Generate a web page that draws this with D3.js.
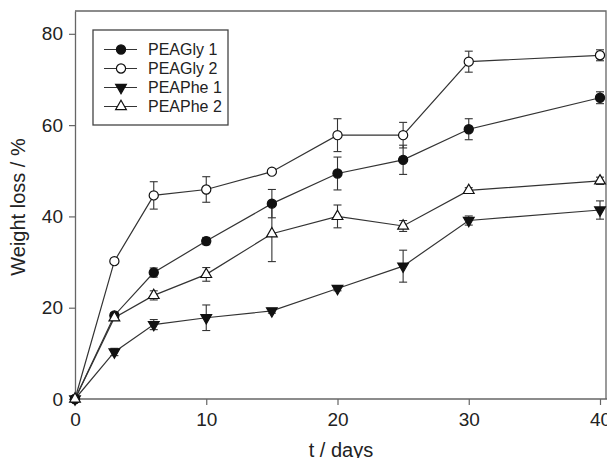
<!DOCTYPE html>
<html>
<head>
<meta charset="utf-8">
<script src="https://cdn.jsdelivr.net/npm/d3@7"></script>
<style>
    body { margin: 0; background: #fff; }
    text { font-family: "Liberation Sans", Arial, sans-serif; fill: #222; }
</style>
</head>
<body>
<div id="chart"></div>
<script>
// data
const days = [0, 3, 6, 10, 15, 20, 25, 30, 40];

const gly1 = [0, 18.3, 27.7, 34.6, 42.8, 49.4, 52.4, 59.1, 66.0];
const gly1Err = [0, 0.6, 1.0, 0.8, 3.1, 3.6, 3.2, 2.3, 1.3];

const gly2 = [0, 30.2, 44.6, 45.9, 49.8, 57.8, 57.8, 73.9, 75.3];
const gly2Err = [0, 0.5, 3.0, 2.8, 0.5, 3.6, 2.8, 2.3, 1.2];

const phe1 = [0, 10.3, 16.3, 17.8, 19.3, 24.2, 29.1, 39.1, 41.4];
const phe1Err = [0, 0.8, 1.1, 2.8, 0.5, 0.5, 3.5, 1.0, 2.0];

const phe2 = [0, 17.8, 22.7, 27.3, 36.2, 40.0, 37.9, 45.7, 47.8];
const phe2Err = [0, 0.6, 1.0, 1.5, 6.1, 2.5, 1.2, 0.6, 0.8];

const seriesNames = ["PEAGly 1", "PEAGly 2", "PEAPhe 1", "PEAPhe 2"];
const xTicks = [0, 10, 20, 30, 40];
const yTicks = [0, 20, 40, 60, 80];

const W = 607, H = 458;
const margin = {top: 11, right: 1, bottom: 59, left: 75};

const svg = d3.select("#chart").append("svg")
    .attr("width", W)
    .attr("height", H);

const x = d3.scaleLinear().domain([0, 40]).range([margin.left, 600]);
const y = d3.scaleLinear().domain([0, 85]).range([H - margin.bottom, margin.top]);

const lineCol = "#333";
const axisCol = "#666";

// frame (top + right), left/bottom come from axes
svg.append("path")
    .attr("d", `M${margin.left},${margin.top}H${W - margin.right}V${y(0)}`)
    .attr("fill", "none")
    .attr("stroke", axisCol)
    .attr("stroke-width", 1.3);

// axes
let xAxis = svg.append("g")
    .attr("transform", `translate(0,${y(0)})`)
    .call(d3.axisBottom(x).tickValues(xTicks).tickSize(6).tickPadding(8).tickSizeOuter(0));
xAxis.select(".domain").attr("d", `M${margin.left},0H${W}`);

let yAxis = svg.append("g")
    .attr("transform", `translate(${margin.left},0)`)
    .call(d3.axisLeft(y).tickValues(yTicks).tickSize(6).tickPadding(6).tickSizeOuter(0));

[xAxis, yAxis].forEach(a => {
    a.select(".domain").attr("stroke", axisCol).attr("stroke-width", 1.3);
    a.selectAll(".tick line").attr("stroke", axisCol).attr("stroke-width", 1.2);
    a.selectAll(".tick text")
        .attr("fill", "#222")
        .style("font-size", "19px")
        .style("font-family", '"Liberation Sans", Arial, sans-serif');
});

// axis titles
svg.append("text")
    .attr("x", 341)
    .attr("y", 457)
    .attr("text-anchor", "middle")
    .style("font-size", "20px")
    .text("t / days");

svg.append("text")
    .attr("transform", `translate(25,${(y(0) + margin.top) / 2 + 2}) rotate(-90)`)
    .attr("text-anchor", "middle")
    .style("font-size", "20px")
    .text("Weight loss / %");

// series
const series = [
    {name: seriesNames[0], vals: gly1, err: gly1Err, sym: d3.symbolCircle, size: 66, fill: "#111", rot: 0},
    {name: seriesNames[1], vals: gly2, err: gly2Err, sym: d3.symbolCircle, size: 66, fill: "#fff", rot: 0},
    {name: seriesNames[2], vals: phe1, err: phe1Err, sym: d3.symbolTriangle, size: 50, fill: "#111", rot: 180},
    {name: seriesNames[3], vals: phe2, err: phe2Err, sym: d3.symbolTriangle, size: 50, fill: "#fff", rot: 0}
];

const line = d3.line()
    .x(d => x(d.t))
    .y(d => y(d.v));

series.forEach(s => {
    s.points = days.map((t, i) => ({t: t, v: s.vals[i], e: s.err[i]}));
});

// lines first
series.forEach(s => {
    svg.append("path")
        .datum(s.points)
        .attr("d", line)
        .attr("fill", "none")
        .attr("stroke", lineCol)
        .attr("stroke-width", 1.2);
});

// error bars
const cap = 4;
series.forEach(s => {
    let g = svg.append("g").attr("stroke", lineCol).attr("stroke-width", 1.1);
    let bars = g.selectAll("g").data(s.points.filter(d => d.e > 0)).enter().append("g");
    bars.append("line")
        .attr("x1", d => x(d.t)).attr("x2", d => x(d.t))
        .attr("y1", d => y(d.v + d.e)).attr("y2", d => y(d.v - d.e));
    bars.append("line")
        .attr("x1", d => x(d.t) - cap).attr("x2", d => x(d.t) + cap)
        .attr("y1", d => y(d.v + d.e)).attr("y2", d => y(d.v + d.e));
    bars.append("line")
        .attr("x1", d => x(d.t) - cap).attr("x2", d => x(d.t) + cap)
        .attr("y1", d => y(d.v - d.e)).attr("y2", d => y(d.v - d.e));
});

// markers
series.forEach(s => {
    let sym = d3.symbol().type(s.sym).size(s.size);
    svg.append("g").selectAll("path")
        .data(s.points).enter().append("path")
        .attr("d", sym)
        .attr("transform", d => `translate(${x(d.t)},${y(d.v)}) rotate(${s.rot})`)
        .attr("fill", s.fill)
        .attr("stroke", "#111")
        .attr("stroke-width", 1.2);
});

// legend
const legend = svg.append("g");
legend.append("rect")
    .attr("x", 93).attr("y", 30)
    .attr("width", 135).attr("height", 95)
    .attr("fill", "#fff")
    .attr("stroke", "#444")
    .attr("stroke-width", 1.3);

series.forEach((s, i) => {
    let ly = 49.5 + i * 19;
    legend.append("line")
        .attr("x1", 104).attr("x2", 137)
        .attr("y1", ly).attr("y2", ly)
        .attr("stroke", lineCol).attr("stroke-width", 1.2);
    legend.append("path")
        .attr("d", d3.symbol().type(s.sym).size(s.size)())
        .attr("transform", `translate(121,${ly}) rotate(${s.rot})`)
        .attr("fill", s.fill)
        .attr("stroke", "#111")
        .attr("stroke-width", 1.2);
    legend.append("text")
        .attr("x", 148)
        .attr("y", ly + 5.5)
        .style("font-size", "16px")
        .text(s.name);
});
</script>
</body>
</html>
